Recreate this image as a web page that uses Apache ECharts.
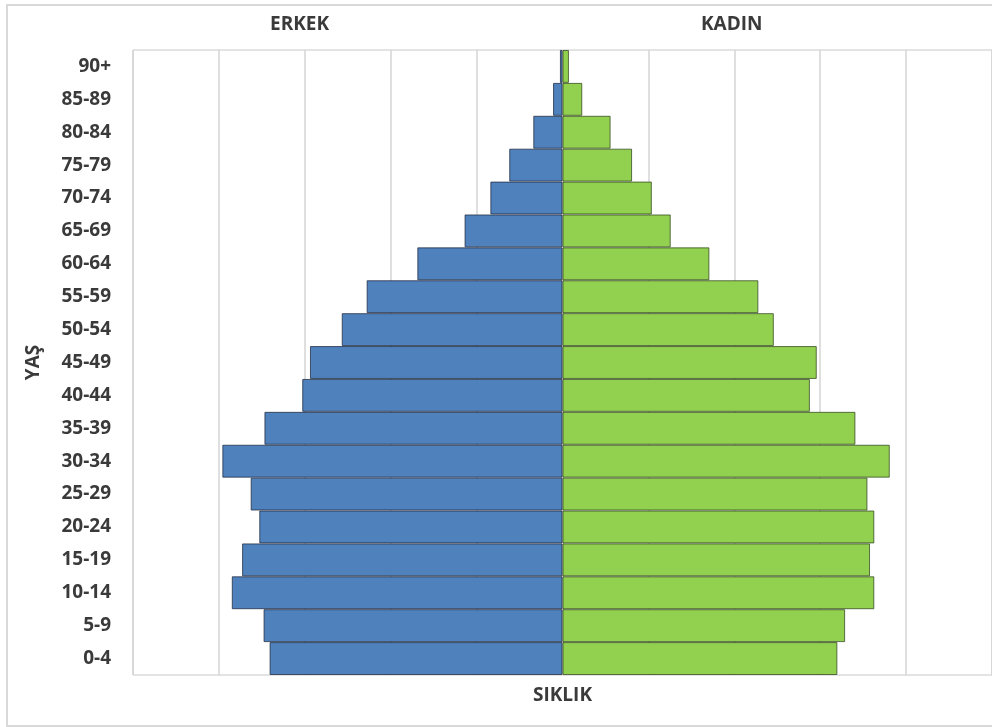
<!DOCTYPE html>
<html>
<head>
<meta charset="utf-8">
<style>
  html, body { margin: 0; padding: 0; background: #fff; }
  #chart { width: 992px; height: 727px; }
</style>
<script src="https://cdn.jsdelivr.net/npm/echarts@6/dist/echarts.min.js"></script>
</head>
<body>
<div id="chart"></div>
<script>
// Age groups, youngest at the bottom of the pyramid
const ageGroups = ['0-4', '5-9', '10-14', '15-19', '20-24', '25-29', '30-34', '35-39',
  '40-44', '45-49', '50-54', '55-59', '60-64', '65-69', '70-74', '75-79', '80-84', '85-89', '90+'];

// Share of population per age group
const male = [3.41, 3.48, 3.85, 3.73, 3.53, 3.63, 3.96, 3.47, 3.03, 2.94,
  2.57, 2.28, 1.69, 1.14, 0.84, 0.62, 0.34, 0.11, 0.03];
const female = [3.20, 3.29, 3.63, 3.58, 3.63, 3.55, 3.81, 3.41, 2.88, 2.96,
  2.46, 2.28, 1.71, 1.26, 1.04, 0.81, 0.56, 0.23, 0.075];

const labels = { male: 'ERKEK', female: 'KADIN', age: 'YAŞ', freq: 'SIKLIK' };

const FONT = '"Open Sans", "DejaVu Sans", sans-serif';
const TEXT = '#3a3a3a';
const GRID = { left: 133, top: 50, width: 862, height: 625 };

const chart = echarts.init(document.getElementById('chart'));

chart.setOption({
  animation: false,
  backgroundColor: '#ffffff',
  grid: {
    left: GRID.left, top: GRID.top, width: GRID.width, height: GRID.height,
    show: true, borderColor: '#c8c8c8', borderWidth: 1, containLabel: false
  },
  xAxis: {
    type: 'value', min: -5, max: 5, interval: 1,
    name: labels.freq, nameLocation: 'middle', nameGap: 11,
    nameTextStyle: { fontFamily: FONT, fontWeight: 'bold', fontSize: 19, color: TEXT },
    axisLine: { show: false }, axisTick: { show: false }, axisLabel: { show: false },
    splitLine: { show: true, lineStyle: { color: '#d4d4d4', width: 1.5 } }
  },
  yAxis: {
    type: 'category', data: ageGroups,
    name: labels.age, nameLocation: 'middle', nameGap: 90, nameRotate: 90,
    nameTextStyle: { fontFamily: FONT, fontWeight: 'bold', fontSize: 19, color: TEXT },
    axisLine: { show: false }, axisTick: { show: false },
    axisLabel: { fontFamily: FONT, fontWeight: 'bold', fontSize: 19, color: TEXT, margin: 22 },
    splitLine: { show: false }
  },
  series: [
    {
      name: labels.male, type: 'bar', stack: 'pyramid',
      barCategoryGap: 0, barWidth: '100%',
      data: male.map(v => -v),
      itemStyle: { color: '#4f81bd', borderColor: 'rgba(30,40,60,0.75)', borderWidth: 1 }
    },
    {
      name: labels.female, type: 'bar', stack: 'pyramid',
      barCategoryGap: 0, barWidth: '100%',
      data: female,
      itemStyle: { color: '#92d050', borderColor: 'rgba(40,60,20,0.7)', borderWidth: 1 }
    }
  ],
  graphic: [
    {
      type: 'rect', silent: true, z: -1,
      shape: { x: 7, y: 5, width: 1000, height: 721 },
      style: { fill: 'none', stroke: '#d9d9d9', lineWidth: 2 }
    },
    {
      type: 'text', left: 270, top: 15,
      style: { text: labels.male, font: 'bold 19px ' + FONT, fill: TEXT }
    },
    {
      type: 'text', left: 701, top: 15,
      style: { text: labels.female, font: 'bold 19px ' + FONT, fill: TEXT }
    }
  ]
});
</script>
</body>
</html>
